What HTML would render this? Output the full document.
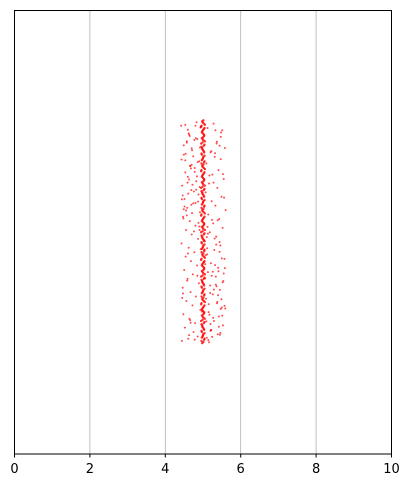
<!DOCTYPE html>
<html><head><meta charset="utf-8"><style>
body{margin:0;background:#fff;}
svg{display:block;font-family:"DejaVu Sans","Liberation Sans",sans-serif;}
</style></head><body>
<svg id="chart" width="402" height="485">
<g id="grid"></g>
<g id="pts"></g>
<rect x="14.5" y="10.5" width="377" height="443.5" fill="none" stroke="#000" stroke-width="1"/>
<g id="xaxis"></g>
</svg>
<script>
const xTicks=[0,2,4,6,8,10];
const xTickLabels=["0","2","4","6","8","10"];
const spreadX=[4.42,5.51,4.63,5.28,4.85,5.44,4.57,5.12,4.71,5.36,4.49,5.58,4.9,5.2,4.66,5.47,4.78,5.31,4.53,5.09,4.6,5.41,4.82,5.25,4.45,5.55,4.69,5.16,4.88,5.38,4.51,5.07,4.74,5.49,4.58,5.23,4.92,5.33,4.47,5.6,4.65,5.14,4.8,5.43,4.55,5.27,4.7,5.52,4.87,5.18,4.43,5.35,4.62,5.05,4.77,5.46,4.54,5.3,4.68,5.11,4.84,5.57,4.5,5.21,4.73,5.4,4.59,5.13,4.89,5.34,4.46,5.54,4.67,5.19,4.81,5.45,4.56,5.26,4.72,5.08,4.93,5.37,4.48,5.5,4.64,5.15,4.79,5.42,4.52,5.29,4.75,5.53,4.86,5.22,4.44,5.39,4.61,5.1,4.83,5.48,4.57,5.32,4.7,5.17,4.91,5.56,4.49,5.24,4.76,5.44,4.6,5.06,4.85,5.36,4.45,5.59,4.66,5.2,4.78,5.47,4.53,5.28,4.69,5.12,4.94,5.41,4.47,5.51,4.63,5.16,4.8,5.33];
const spreadY=[7.4,7.3,7.2,7.45,7.1,6.95,7.05,7.35,6.85,7.0,6.75,6.9,6.6,6.8,6.5,6.65,6.45,6.7,6.35,6.55,6.25,6.4,6.15,6.3,6.05,6.2,5.95,6.1,5.85,6.0,5.75,5.9,5.65,5.8,5.55,5.7,5.45,5.6,5.35,5.5,5.25,5.4,5.15,5.3,5.05,5.2,4.95,5.1,4.85,5.0,4.75,4.9,4.65,4.8,4.55,4.7,4.45,4.6,4.35,4.5,4.25,4.4,4.15,4.3,4.05,4.2,3.95,4.1,3.85,4.0,3.75,3.9,3.65,3.8,3.55,3.7,3.45,3.6,3.35,3.5,3.25,3.4,3.15,3.3,3.05,3.2,2.95,3.1,2.85,3.0,2.75,2.9,2.65,2.8,2.55,2.7,2.6,2.62,7.48,7.25,7.02,6.78,6.52,6.28,6.02,5.78,5.52,5.28,5.02,4.78,4.52,4.28,4.02,3.78,3.52,3.28,3.02,2.78,2.58,7.15,6.62,6.12,5.62,5.12,4.62,4.12,3.62,3.12,2.68,2.52];
const spreadX2=[5.22,4.58,5.39,4.81,5.07,4.67,5.53,4.44,5.15,4.93,5.31,4.72,5.46,4.55,5.19,4.86,5.58,4.62,5.27,4.76,5.11,4.49,5.42,4.9,5.34,4.68,5.03,4.53,5.49,4.8,5.24,4.63,5.13,4.97,5.37,4.57,5.55,4.74,5.09,4.46,5.29,4.84,5.44,4.6,5.17,4.91,5.5,4.7,5.21,4.51,5.06,4.78,5.35,4.65,5.57,4.88,5.26,4.43,5.14,4.82,5.4,4.59,5.1,4.95,5.47,4.71,5.32,4.54,5.2,4.87,5.52,4.66,5.04,4.77,5.38,4.48,5.23,4.92,5.45,4.61];
const spreadY2=[6.83,3.91,5.27,7.12,4.48,2.96,6.31,5.74,3.38,7.36,4.86,6.07,2.73,5.49,3.63,6.58,4.19,7.23,3.07,5.92,4.64,6.96,2.87,5.13,3.82,6.44,4.33,7.42,3.49,5.66,2.64,6.19,4.97,3.21,7.04,5.38,4.07,6.71,2.99,5.83,3.71,6.26,4.56,7.31,3.14,5.05,4.41,6.89,2.79,5.58,3.96,6.36,4.72,7.17,3.34,5.21,4.11,6.64,2.57,5.96,3.58,6.12,4.89,7.39,3.27,5.43,4.26,6.77,2.93,5.69,3.87,6.49,4.61,7.08,3.43,5.31,4.02,6.91,2.69,5.87];
const colX=[4.98,5.02,4.96,5.04,5.0,4.97,5.03,5.01,4.99,5.05,4.95,5.02,4.98,5.0,5.03,4.97,5.01,4.99,5.04,4.96];
const colY=[7.5,7.45,7.4,7.35,7.3,7.25,7.2,7.15,7.1,7.05,7.0,6.95,6.9,6.85,6.8,6.75,6.7,6.65,6.6,6.55,6.5,6.45,6.4,6.35,6.3,6.25,6.2,6.15,6.1,6.05,6.0,5.95,5.9,5.85,5.8,5.75,5.7,5.65,5.6,5.55,5.5,5.45,5.4,5.35,5.3,5.25,5.2,5.15,5.1,5.05,5.0,4.95,4.9,4.85,4.8,4.75,4.7,4.65,4.6,4.55,4.5,4.45,4.4,4.35,4.3,4.25,4.2,4.15,4.1,4.05,4.0,3.95,3.9,3.85,3.8,3.75,3.7,3.65,3.6,3.55,3.5,3.45,3.4,3.35,3.3,3.25,3.2,3.15,3.1,3.05,3.0,2.95,2.9,2.85,2.8,2.75,2.7,2.65,2.6,2.55,2.5];
const NS="http://www.w3.org/2000/svg";
const X0=14.5,X1=391.5,Y0=454,Y1=10.5;
const sx=v=>X0+(v/10)*(X1-X0);
const sy=v=>Y0-(v/10)*(Y0-Y1);
const grid=document.getElementById('grid'),pts=document.getElementById('pts'),xa=document.getElementById('xaxis');
xTicks.forEach((t,i)=>{
  const x=sx(t);
  if(i>0&&i<xTicks.length-1){
    const g=document.createElementNS(NS,'line');
    g.setAttribute('x1',x);g.setAttribute('x2',x);g.setAttribute('y1',Y1);g.setAttribute('y2',Y0);
    g.setAttribute('stroke','#b0b0b0');g.setAttribute('stroke-width','0.8');
    
    
    grid.appendChild(g);
  }
  const tk=document.createElementNS(NS,'line');
  tk.setAttribute('x1',x);tk.setAttribute('x2',x);tk.setAttribute('y1',Y0);tk.setAttribute('y2',Y0+3.5);
  tk.setAttribute('stroke','#000');
  
  
  xa.appendChild(tk);
  const tx=document.createElementNS(NS,'text');
  tx.setAttribute('x',x);tx.setAttribute('y',Y0+19);tx.setAttribute('text-anchor','middle');tx.setAttribute('font-size','13');
  tx.textContent=xTickLabels[i];
  
  
  xa.appendChild(tx);
});
function dot(x,y,r,a){
  const c=document.createElementNS(NS,'circle');
  c.setAttribute('cx',sx(x));c.setAttribute('cy',sy(y));c.setAttribute('r',r);
  c.setAttribute('fill','red');c.setAttribute('fill-opacity',a);
  
  
  pts.appendChild(c);
}
spreadX.forEach((x,i)=>dot(x,spreadY[i%spreadY.length],1,0.7));
spreadX2.forEach((x,i)=>dot(x,spreadY2[i],1,0.7));
colY.forEach((y,i)=>{dot(colX[i%colX.length],y,1.2,0.8);dot(colX[(i+7)%colX.length],y+0.025,1.2,0.8);});
</script>
</body></html>
